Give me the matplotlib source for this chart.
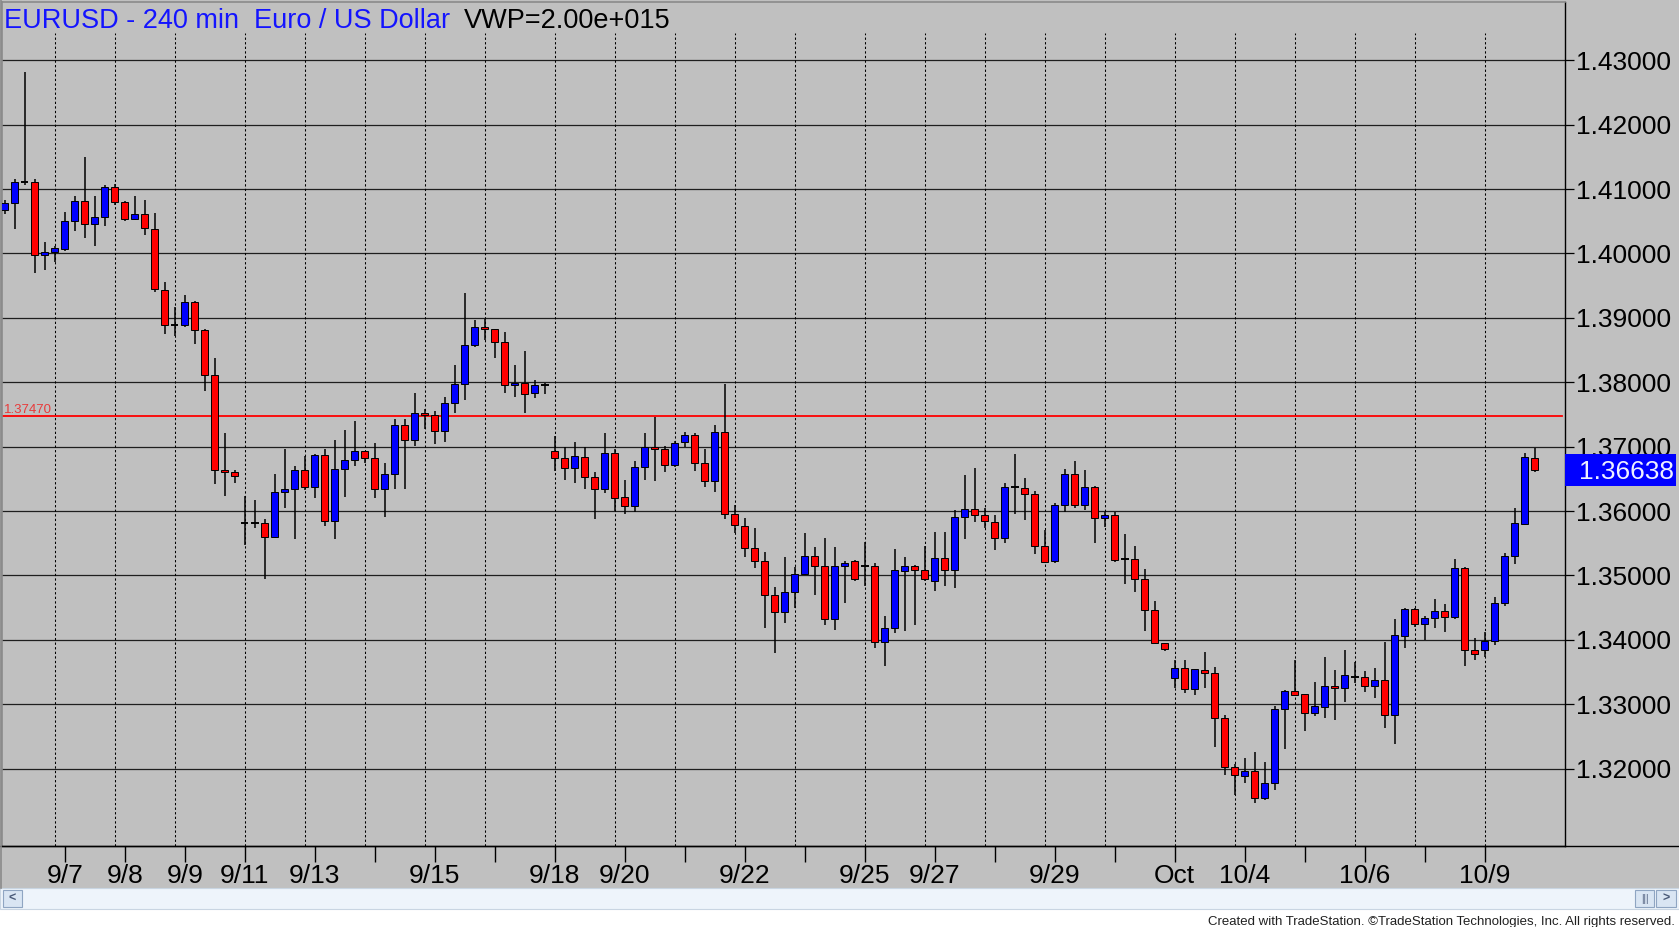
import matplotlib
matplotlib.use("Agg")
import matplotlib.pyplot as plt
import matplotlib.transforms as mtransforms
from matplotlib.patches import Rectangle
from matplotlib.lines import Line2D

plt.rcParams["font.family"] = ["Liberation Sans", "DejaVu Sans"]

# EURUSD 240 min bars
opens = [1.4067, 1.4078, 1.4111, 1.4111, 1.3997, 1.4002, 1.4007, 1.4050, 1.4082, 1.4046,
         1.4056, 1.4104, 1.4080, 1.4053, 1.4061, 1.4038, 1.3944, 1.3889, 1.3889, 1.3924,
         1.3881, 1.3812, 1.3664, 1.3660, 1.3582, 1.3581, 1.3582, 1.3560, 1.3630, 1.3634,
         1.3664, 1.3638, 1.3687, 1.3584, 1.3665, 1.3679, 1.3693, 1.3682, 1.3634, 1.3658,
         1.3733, 1.3710, 1.3753, 1.3749, 1.3724, 1.3768, 1.3797, 1.3858, 1.3886, 1.3882,
         1.3862, 1.3796, 1.3799, 1.3783, 1.3795, 1.3693, 1.3682, 1.3667, 1.3684, 1.3653,
         1.3635, 1.3690, 1.3622, 1.3608, 1.3669, 1.3700, 1.3696, 1.3672, 1.3707, 1.3718,
         1.3674, 1.3647, 1.3723, 1.3595, 1.3577, 1.3542, 1.3523, 1.3469, 1.3443, 1.3474,
         1.3503, 1.3530, 1.3515, 1.3433, 1.3515, 1.3522, 1.3515, 1.3514, 1.3396, 1.3418,
         1.3507, 1.3514, 1.3509, 1.3492, 1.3527, 1.3509, 1.3591, 1.3603, 1.3594, 1.3583,
         1.3558, 1.3637, 1.3636, 1.3627, 1.3546, 1.3523, 1.3610, 1.3658, 1.3609, 1.3638,
         1.3589, 1.3594, 1.3526, 1.3526, 1.3495, 1.3447, 1.3395, 1.3341, 1.3357, 1.3324,
         1.3353, 1.3349, 1.3279, 1.3202, 1.3189, 1.3197, 1.3155, 1.3177, 1.3292, 1.3320,
         1.3316, 1.3286, 1.3296, 1.3329, 1.3325, 1.3343, 1.3343, 1.3328, 1.3337, 1.3284,
         1.3406, 1.3448, 1.3425, 1.3434, 1.3445, 1.3435, 1.3511, 1.3385, 1.3385, 1.3398,
         1.3457, 1.3530, 1.3580, 1.3682]
highs = [1.4083, 1.4115, 1.4282, 1.4116, 1.4018, 1.4011, 1.4064, 1.4089, 1.4150, 1.4090,
         1.4106, 1.4108, 1.4081, 1.4089, 1.4083, 1.4063, 1.3955, 1.3917, 1.3936, 1.3926,
         1.3882, 1.3838, 1.3721, 1.3664, 1.3624, 1.3617, 1.3587, 1.3658, 1.3696, 1.3670,
         1.3685, 1.3688, 1.3696, 1.3711, 1.3726, 1.3740, 1.3694, 1.3706, 1.3674, 1.3743,
         1.3743, 1.3784, 1.3758, 1.3756, 1.3777, 1.3827, 1.3938, 1.3896, 1.3898, 1.3883,
         1.3878, 1.3827, 1.3848, 1.3803, 1.3799, 1.3717, 1.3700, 1.3708, 1.3700, 1.3660,
         1.3722, 1.3696, 1.3649, 1.3678, 1.3721, 1.3746, 1.3701, 1.3709, 1.3723, 1.3722,
         1.3696, 1.3733, 1.3797, 1.3610, 1.3589, 1.3573, 1.3537, 1.3482, 1.3529, 1.3513,
         1.3566, 1.3544, 1.3558, 1.3544, 1.3523, 1.3524, 1.3552, 1.3519, 1.3437, 1.3541,
         1.3529, 1.3516, 1.3546, 1.3567, 1.3568, 1.3602, 1.3656, 1.3667, 1.3605, 1.3594,
         1.3643, 1.3689, 1.3652, 1.3631, 1.3571, 1.3612, 1.3665, 1.3678, 1.3663, 1.3639,
         1.3599, 1.3599, 1.3564, 1.3546, 1.3510, 1.3461, 1.3395, 1.3368, 1.3369, 1.3355,
         1.3381, 1.3358, 1.3283, 1.3208, 1.3216, 1.3226, 1.3211, 1.3298, 1.3322, 1.3368,
         1.3316, 1.3335, 1.3374, 1.3353, 1.3384, 1.3365, 1.3351, 1.3356, 1.3396, 1.3433,
         1.3449, 1.3449, 1.3437, 1.3464, 1.3455, 1.3525, 1.3513, 1.3403, 1.3412, 1.3467,
         1.3535, 1.3604, 1.3690, 1.3698]
lows = [1.4062, 1.4038, 1.4106, 1.3970, 1.3974, 1.3987, 1.4004, 1.4035, 1.4024, 1.4011,
        1.4043, 1.4076, 1.4050, 1.4052, 1.4028, 1.3940, 1.3875, 1.3872, 1.3886, 1.3860,
        1.3787, 1.3642, 1.3624, 1.3643, 1.3548, 1.3574, 1.3495, 1.3558, 1.3605, 1.3556,
        1.3633, 1.3621, 1.3577, 1.3557, 1.3622, 1.3670, 1.3674, 1.3621, 1.3591, 1.3635,
        1.3635, 1.3701, 1.3727, 1.3704, 1.3707, 1.3753, 1.3773, 1.3855, 1.3865, 1.3838,
        1.3784, 1.3777, 1.3753, 1.3776, 1.3782, 1.3662, 1.3648, 1.3644, 1.3634, 1.3588,
        1.3628, 1.3600, 1.3595, 1.3598, 1.3649, 1.3646, 1.3661, 1.3668, 1.3699, 1.3662,
        1.3638, 1.3629, 1.3588, 1.3566, 1.3529, 1.3512, 1.3419, 1.3380, 1.3426, 1.3450,
        1.3501, 1.3470, 1.3423, 1.3416, 1.3457, 1.3492, 1.3484, 1.3388, 1.3360, 1.3411,
        1.3413, 1.3423, 1.3491, 1.3476, 1.3483, 1.3480, 1.3557, 1.3583, 1.3574, 1.3539,
        1.3550, 1.3596, 1.3586, 1.3533, 1.3519, 1.3520, 1.3599, 1.3604, 1.3602, 1.3550,
        1.3575, 1.3521, 1.3487, 1.3475, 1.3413, 1.3394, 1.3382, 1.3325, 1.3318, 1.3314,
        1.3326, 1.3234, 1.3190, 1.3159, 1.3178, 1.3146, 1.3151, 1.3167, 1.3230, 1.3314,
        1.3258, 1.3282, 1.3279, 1.3276, 1.3304, 1.3333, 1.3319, 1.3310, 1.3263, 1.3239,
        1.3388, 1.3420, 1.3400, 1.3419, 1.3412, 1.3433, 1.3359, 1.3368, 1.3373, 1.3392,
        1.3452, 1.3518, 1.3578, 1.3661]
closes = [1.4079, 1.4111, 1.4111, 1.3997, 1.4002, 1.4008, 1.4051, 1.4082, 1.4046, 1.4057,
          1.4104, 1.4080, 1.4053, 1.4061, 1.4039, 1.3945, 1.3889, 1.3889, 1.3924, 1.3881,
          1.3812, 1.3664, 1.3660, 1.3654, 1.3582, 1.3581, 1.3560, 1.3630, 1.3635, 1.3664,
          1.3638, 1.3687, 1.3584, 1.3665, 1.3679, 1.3693, 1.3682, 1.3634, 1.3658, 1.3733,
          1.3710, 1.3753, 1.3749, 1.3724, 1.3768, 1.3797, 1.3858, 1.3886, 1.3882, 1.3862,
          1.3796, 1.3799, 1.3782, 1.3796, 1.3795, 1.3682, 1.3667, 1.3686, 1.3653, 1.3635,
          1.3690, 1.3621, 1.3608, 1.3669, 1.3700, 1.3696, 1.3672, 1.3706, 1.3718, 1.3674,
          1.3647, 1.3723, 1.3596, 1.3579, 1.3542, 1.3522, 1.3469, 1.3443, 1.3474, 1.3503,
          1.3530, 1.3514, 1.3433, 1.3515, 1.3520, 1.3494, 1.3515, 1.3397, 1.3418, 1.3509,
          1.3514, 1.3509, 1.3494, 1.3527, 1.3509, 1.3591, 1.3603, 1.3594, 1.3584, 1.3558,
          1.3637, 1.3637, 1.3626, 1.3546, 1.3521, 1.3610, 1.3658, 1.3609, 1.3638, 1.3590,
          1.3594, 1.3524, 1.3526, 1.3495, 1.3447, 1.3395, 1.3386, 1.3357, 1.3324, 1.3354,
          1.3349, 1.3279, 1.3202, 1.3190, 1.3197, 1.3155, 1.3178, 1.3292, 1.3320, 1.3315,
          1.3286, 1.3297, 1.3329, 1.3325, 1.3345, 1.3343, 1.3328, 1.3337, 1.3284, 1.3407,
          1.3448, 1.3425, 1.3434, 1.3445, 1.3435, 1.3511, 1.3384, 1.3378, 1.3399, 1.3457,
          1.3530, 1.3581, 1.3684, 1.36638]

# date axis
tick_bars = [6, 12, 18, 24, 31, 37, 43, 49, 55, 62, 68, 74, 80, 86, 93, 99, 105, 111,
             117, 124, 130, 136, 142, 148]
tick_labels = ["9/7", "9/8", "9/9", "9/11", "9/13", "", "9/15", "", "9/18", "9/20", "",
               "9/22", "", "9/25", "9/27", "", "9/29", "", "Oct", "10/4", "", "10/6", "", "10/9"]
grid_bars = [5, 11, 17, 24, 30, 36, 42, 48, 55, 61, 67, 73, 79, 86, 92, 98, 104, 110,
             117, 123, 129, 135, 141, 148]
price_ticks = [1.32, 1.33, 1.34, 1.35, 1.36, 1.37, 1.38, 1.39, 1.40, 1.41, 1.42, 1.43]
ref_level = 1.3747

title_blue = "EURUSD - 240 min  Euro / US Dollar"
title_black = "VWP=2.00e+015"
footer = "Created with TradeStation. \u00a9TradeStation Technologies, Inc. All rights reserved."

W, H = 1679, 927
BG = "#c0c0c0"


def fx(px):
    return px / W


def fy(py):
    return 1 - py / H


fig = plt.figure(figsize=(W / 100, H / 100), dpi=100)
fig.patch.set_facecolor(BG)

ax = fig.add_axes([fx(2), fy(846), (1565 - 2) / W, (846 - 2) / H])
ax.set_facecolor(BG)
ax.set_xlim(-0.27, 156.03)
ax.set_ylim(1.30799, 1.43905)

# grid
for p in price_ticks:
    ax.axhline(p, color="#1e1e1e", lw=0.9, zorder=1)
for b in grid_bars:
    ax.axvline(b, ymin=0, ymax=0.963, color="black", lw=0.75, ls=(0, (2.2, 2.2)), zorder=1)

# reference level
ax.axhline(ref_level, xmax=0.998, color="#ff0000", lw=1.3, zorder=2)
blend = mtransforms.blended_transform_factory(ax.transAxes, ax.transData)
ax.text(0.001, ref_level, f"{ref_level:.5f}", transform=mtransforms.offset_copy(blend, fig=fig, y=0.5, units="dots"),
        color="#e83a3a", fontsize=9.5, va="bottom", ha="left")

# candles
n = len(opens)
xs = list(range(n))
ax.vlines(xs, lows, highs, color="black", lw=1.1, zorder=3)
body_x, body_b, body_h, body_c = [], [], [], []
for i in xs:
    o, c = opens[i], closes[i]
    if abs(c - o) < 0.00006:
        ax.hlines(o, i - 0.38, i + 0.38, color="black", lw=1.4, zorder=4)
        continue
    body_x.append(i)
    body_b.append(min(o, c))
    body_h.append(abs(c - o))
    body_c.append("#0000ff" if c > o else "#ff0000")
ax.bar(body_x, body_h, bottom=body_b, width=0.7, color=body_c, edgecolor="black",
       linewidth=0.7, zorder=4)

# axes styling
for s in ["left", "top"]:
    ax.spines[s].set_color("#8a8a8a")
    ax.spines[s].set_linewidth(1.2)
ax.spines["right"].set_color("black")
ax.spines["bottom"].set_color("black")
ax.spines["right"].set_linewidth(1.0)
ax.spines["bottom"].set_linewidth(1.0)

ax.yaxis.tick_right()
ax.set_yticks(price_ticks)
ax.set_yticklabels([f"{p:.5f}" for p in price_ticks])
ax.tick_params(axis="y", direction="out", length=6.5, width=0.9, pad=1.5, labelsize=19, colors="black")
ax.set_xticks(tick_bars)
ax.set_xticklabels(tick_labels)
ax.tick_params(axis="x", direction="out", length=11.5, width=1.0, pad=1.5, labelsize=19, colors="black")

# last price box
last = closes[-1]
ax.add_patch(Rectangle((1.0, last - 0.00248), 0.071, 0.00496, transform=blend, clip_on=False,
                       facecolor="#0000ff", edgecolor="none", zorder=10))
ax.text(1.009, last, f"{last:.5f}", transform=blend, clip_on=False, color="#eef0ff",
        fontsize=19, va="center_baseline", ha="left", zorder=11)

# bottom line runs under the price scale too
fig.add_artist(Line2D([0, 1], [fy(846), fy(846)], color="black", lw=1.0))
fig.add_artist(Line2D([fx(1), fx(1)], [fy(0), fy(888)], color="#8a8a8a", lw=1.2))

# title
fig.text(fx(3.6), fy(28.3), title_blue, color="#1414ff", fontsize=19.5, va="baseline", ha="left")
fig.text(fx(464), fy(28.3), title_black, color="black", fontsize=19.5, va="baseline", ha="left")

# white strip under the window, and the scroll bar
fig.add_artist(Rectangle((0, 0), 1, fy(909), transform=fig.transFigure,
                         facecolor="white", edgecolor="none"))
fig.add_artist(Rectangle((0, fy(909)), 1, fy(888) - fy(909), transform=fig.transFigure,
                         facecolor="#eef4fb", edgecolor="#c9d5e2", lw=0.8))
for x0, x1, lab in [(3, 22, "<"), (1635, 1654, "|||"), (1656, 1676, ">")]:
    fig.add_artist(Rectangle((fx(x0), fy(907)), fx(x1) - fx(x0), fy(890) - fy(907),
                             transform=fig.transFigure, facecolor="#d9e5f3",
                             edgecolor="#8fa5c2", lw=0.8))
    fig.text(fx((x0 + x1) / 2), fy(898.5), lab, color="#4a5a78", fontsize=7 if lab == "|||" else 9,
             ha="center", va="center", fontweight="bold" if lab != "|||" else "normal")

fig.text(fx(1675), fy(925), footer, color="#202020", fontsize=9.5, ha="right", va="baseline")

fig.savefig("out.png", dpi=100, facecolor=fig.get_facecolor())
